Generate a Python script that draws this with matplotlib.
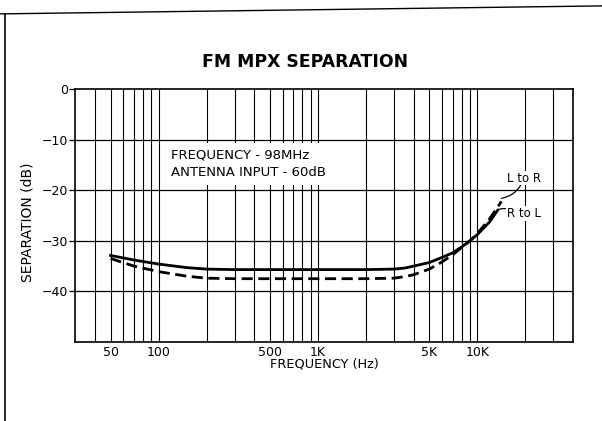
import matplotlib
matplotlib.use("Agg")
import matplotlib.pyplot as plt
from matplotlib.lines import Line2D

plt.rcParams['font.family'] = ['DejaVu Sans']

# curve data (Hz, dB)
lr_freq = [50, 70, 100, 150, 200, 300, 500, 1000, 2000, 3000, 3500, 4000,
           5000, 6000, 7000, 8000, 9000, 10000, 12000, 14200]
lr_sep = [-33.5, -35.0, -36.1, -37.0, -37.4, -37.5, -37.5, -37.5, -37.5, -37.4,
          -37.1, -36.7, -35.6, -34.2, -32.8, -31.3, -30.0, -28.6, -25.6, -22.2]

rl_freq = [50, 70, 100, 150, 200, 300, 500, 1000, 2000, 3000, 3500, 4000,
           5000, 6000, 7000, 8000, 9000, 10000, 12000, 13400]
rl_sep = [-32.9, -33.8, -34.6, -35.3, -35.6, -35.7, -35.7, -35.7, -35.7, -35.6,
          -35.4, -35.0, -34.3, -33.3, -32.4, -31.2, -30.0, -28.8, -26.2, -24.0]

x_ticks = [50, 100, 500, 1000, 5000, 10000]
x_labels = ['50', '100', '500', '1K', '5K', '10K']
y_ticks = [0, -10, -20, -30, -40]
grid_freqs = [m * 10 ** d for d in range(1, 5) for m in range(1, 10)]

fig = plt.figure(figsize=(6.02, 4.21), dpi=100)
ax = fig.add_axes([0.125, 0.188, 0.827, 0.600])

ax.set_xscale('log')
ax.set_xlim(30, 40000)
ax.set_ylim(-50, 0)

# full decade grid, drawn by hand so every 1..9 line shows
for f in grid_freqs:
    if 30 < f < 40000:
        ax.axvline(f, color='black', lw=0.8, zorder=1)
for y in y_ticks[1:]:
    ax.axhline(y, color='black', lw=0.9, zorder=1)

ax.plot(rl_freq, rl_sep, color='black', lw=2.0, zorder=3)
ax.plot(lr_freq, lr_sep, color='black', lw=2.0, ls=(0, (4, 2)), zorder=3)

ax.set_xticks(x_ticks)
ax.set_xticklabels(x_labels)
ax.xaxis.set_minor_locator(matplotlib.ticker.NullLocator())
ax.set_yticks(y_ticks)
ax.set_yticklabels(['0', '\u221210', '\u221220', '\u221230', '\u221240'])
ax.tick_params(axis='x', length=0, pad=3, labelsize=9)
ax.tick_params(axis='y', length=4, width=0.9, pad=1, labelsize=9)
for s in ax.spines.values():
    s.set_linewidth(1.2)

ax.set_xlabel('FREQUENCY (Hz)', fontsize=9.3, labelpad=-1)
ax.set_ylabel('SEPARATION (dB)', fontsize=10)
ax.yaxis.set_label_coords(-0.082, 0.474)
fig.text(0.507, 0.852, 'FM MPX SEPARATION', ha='center', va='center',
         fontsize=12.4, fontweight='bold')

# condition box, masks the grid behind it
ax.text(120, -14.8, 'FREQUENCY - 98MHz\nANTENNA INPUT - 60dB', fontsize=9.5,
        ha='left', va='center', linespacing=1.45, zorder=4,
        bbox=dict(facecolor='white', edgecolor='none', pad=4))

ax.annotate('L to R', xy=(lr_freq[-1], lr_sep[-1] + 0.6), xytext=(15300, -17.6),
            fontsize=8.5, va='center', ha='left', zorder=5,
            bbox=dict(facecolor='white', edgecolor='none', pad=0.5),
            arrowprops=dict(arrowstyle='-', lw=0.9, connectionstyle='arc3,rad=-0.3',
                            shrinkA=0, shrinkB=0))
ax.annotate('R to L', xy=(rl_freq[-1], rl_sep[-1] + 0.2), xytext=(15300, -24.6),
            fontsize=8.5, va='center', ha='left', zorder=5,
            bbox=dict(facecolor='white', edgecolor='none', pad=0.5),
            arrowprops=dict(arrowstyle='-', lw=0.9, connectionstyle='arc3,rad=0.2',
                            shrinkA=0, shrinkB=0))

# scanned page edge
fig.add_artist(Line2D([0.0, 1.0], [0.967, 0.986], color='black', lw=1.0))
fig.add_artist(Line2D([0.009, 0.009], [0.0, 0.967], color='black', lw=1.2))

fig.savefig('out.png', dpi=100)
